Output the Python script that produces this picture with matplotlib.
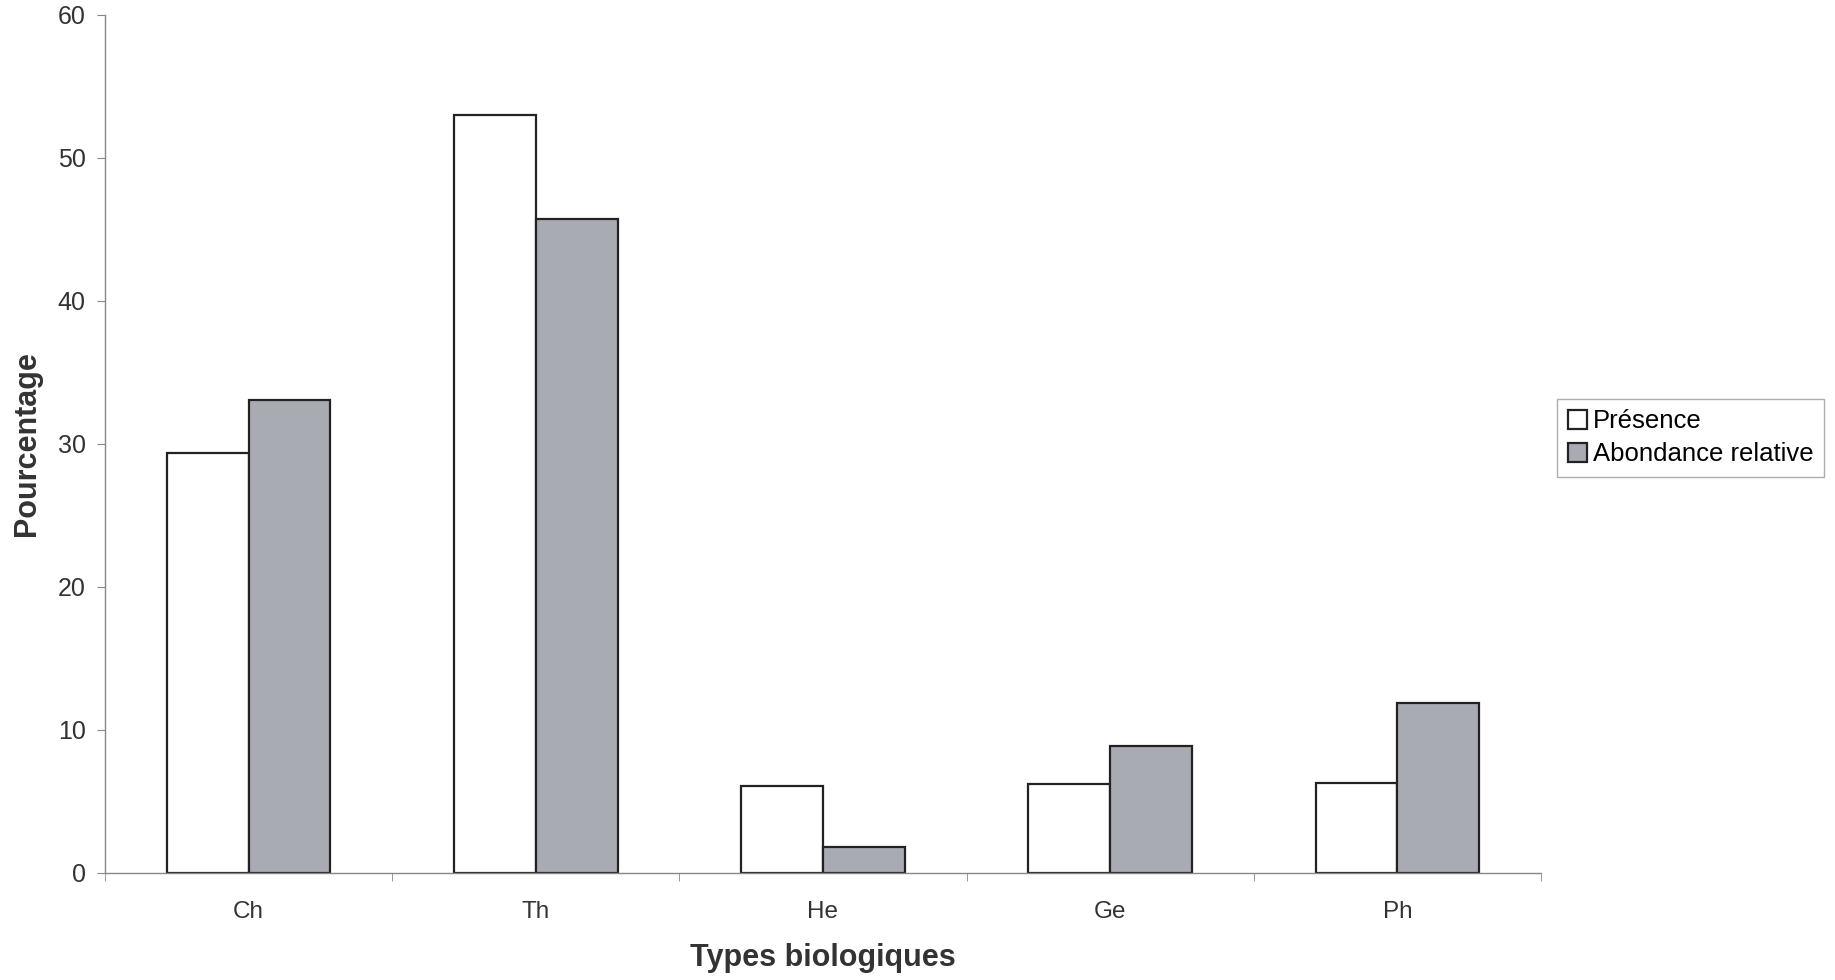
import matplotlib.pyplot as plt
import numpy as np

plt.rcParams['font.family'] = ['Liberation Sans', 'DejaVu Sans']

# data
types = ['Ch', 'Th', 'He', 'Ge', 'Ph']
presence = [29.4, 53.0, 6.1, 6.2, 6.3]
abondance = [33.1, 45.7, 1.8, 8.9, 11.9]

fig = plt.figure(figsize=(18.35, 9.8), dpi=100)
ax = fig.add_axes([0.0572, 0.1092, 0.7826, 0.8755])

x = np.arange(len(types))
w = 0.285
ax.bar(x - w / 2, presence, w, color='white', edgecolor='#222222', linewidth=1.6, label='Présence')
ax.bar(x + w / 2, abondance, w, color='#a9abb3', edgecolor='#222222', linewidth=1.6, label='Abondance relative')

ax.set_xlim(-0.5, len(types) - 0.5)
ax.set_ylim(0, 60)
ax.set_yticks(range(0, 61, 10))
ax.set_xticks(x)
ax.set_xticklabels(types)
ax.set_xticks(np.arange(-0.5, len(types), 1.0), minor=True)
ax.tick_params(axis='x', which='major', length=0, labelsize=17.5, pad=20, colors='#333333')
ax.tick_params(axis='x', which='minor', length=6, color='#888888', direction='out')
ax.tick_params(axis='y', length=6, color='#888888', labelsize=18, pad=8, labelcolor='#333333')

for s in ['top', 'right']:
    ax.spines[s].set_visible(False)
for s in ['left', 'bottom']:
    ax.spines[s].set_color('#888888')
    ax.spines[s].set_linewidth(1.0)

ax.set_xlabel('Types biologiques', fontsize=22, fontweight='bold', color='#333333', labelpad=14.5)
ax.set_ylabel('Pourcentage', fontsize=22, fontweight='bold', color='#333333', labelpad=11)

leg = ax.legend(loc='center left', bbox_to_anchor=(1.006, 0.507), fontsize=18.5, frameon=True,
                fancybox=False, handlelength=0.75, handleheight=0.75, handletextpad=0.25,
                borderpad=0.4, labelspacing=0.35, borderaxespad=0.3)
leg.get_frame().set_edgecolor('#999999')
leg.get_frame().set_linewidth(1.0)

plt.savefig('out.png', dpi=100)
